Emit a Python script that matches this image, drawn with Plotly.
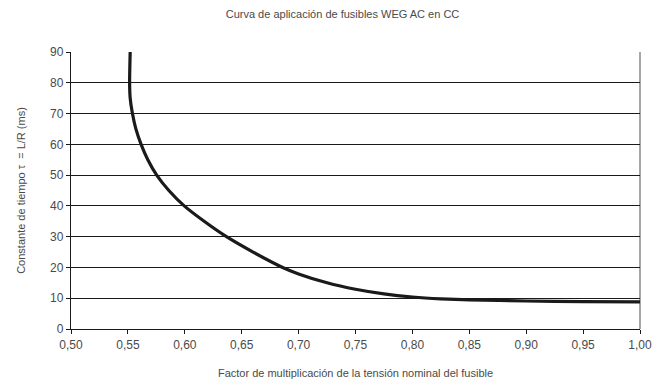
import plotly.graph_objects as go

factor = [0.552, 0.5515, 0.552, 0.554, 0.557, 0.5616, 0.5675, 0.5753, 0.586, 0.5995,
          0.617, 0.6366, 0.66, 0.686, 0.70, 0.725, 0.75, 0.775, 0.80, 0.825, 0.85,
          0.90, 0.95, 1.00]
tau = [90, 80, 75, 70, 65, 60, 55, 50, 45, 40,
       35, 30, 25, 20, 17.9, 15.0, 12.9, 11.4, 10.4, 9.8, 9.45,
       9.1, 8.9, 8.8]

x_ticks = [0.50, 0.55, 0.60, 0.65, 0.70, 0.75, 0.80, 0.85, 0.90, 0.95, 1.00]
y_ticks = [0, 10, 20, 30, 40, 50, 60, 70, 80, 90]

title = "Curva de aplicación de fusibles WEG AC en CC"
x_title = "Factor de multiplicación de la tensión nominal del fusible"
y_title = "Constante de tiempo τ  = L/R (ms)"

font_family = "Liberation Sans, Arial, sans-serif"
text_color = "#4a4a4a"

fig = go.Figure()
fig.add_trace(go.Scatter(
    x=factor, y=tau, mode="lines",
    line=dict(color="#1a1a1a", width=3.2, shape="spline", smoothing=0.6),
    hoverinfo="skip", showlegend=False,
))

fig.update_layout(
    width=669, height=385,
    margin=dict(l=61, r=37, t=44, b=64),
    paper_bgcolor="white", plot_bgcolor="white",
    separators=",.",
    font=dict(family=font_family, color=text_color, size=12),
    title=dict(text=title, x=0.5, xanchor="center", y=0.984, yanchor="middle",
               font=dict(size=11, color=text_color)),
    xaxis=dict(
        range=[0.5, 1.0], tickvals=x_ticks, tickformat=".2f",
        showgrid=False, zeroline=False,
        showline=True, linecolor="#1a1a1a", linewidth=1.3,
        ticks="outside", ticklen=4, tickcolor="#1a1a1a", tickwidth=1.3,
        tickfont=dict(size=12, color=text_color),
        title=dict(text=x_title, font=dict(size=11, color=text_color), standoff=18),
    ),
    yaxis=dict(
        range=[0, 90], tickvals=y_ticks,
        showgrid=True, gridcolor="#1a1a1a", gridwidth=1.4,
        zeroline=False,
        showline=True, linecolor="#1a1a1a", linewidth=1.3,
        ticks="outside", ticklen=4, tickcolor="#1a1a1a", tickwidth=1.3,
        tickfont=dict(size=12, color=text_color),
        title=dict(text=y_title, font=dict(size=11, color=text_color), standoff=22),
    ),
    shapes=[dict(type="line", xref="paper", yref="paper", x0=1, x1=1, y0=0, y1=1,
                 line=dict(color="#8a8a8a", width=1.5), layer="below")],
)

fig.write_html("out.html")
